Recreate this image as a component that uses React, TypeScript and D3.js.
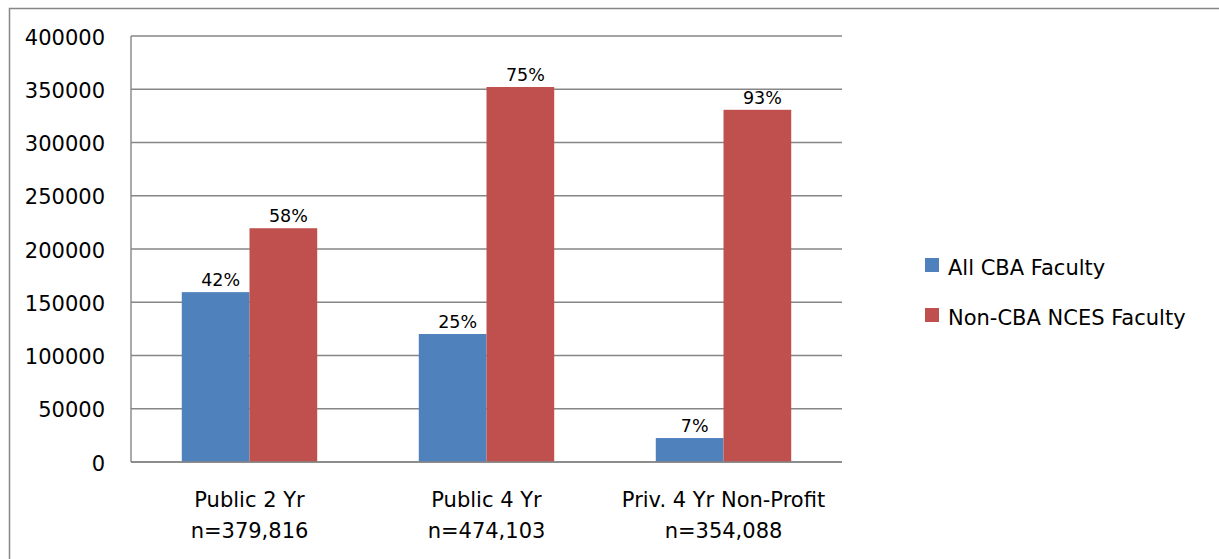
import React from "react";
import * as d3 from "d3";

const categories = ["Public 2 Yr", "Public 4 Yr", "Priv. 4 Yr Non-Profit"];
const categorySub = ["n=379,816", "n=474,103", "n=354,088"];
const seriesNames = ["All CBA Faculty", "Non-CBA NCES Faculty"];
const seriesColors = ["#4F81BD", "#C0504D"];
const cbaValues = [159500, 120200, 22500];
const nonCbaValues = [219500, 352100, 330700];
const cbaLabels = ["42%", "25%", "7%"];
const nonCbaLabels = ["58%", "75%", "93%"];
const yTicks = [0, 50000, 100000, 150000, 200000, 250000, 300000, 350000, 400000];

const W = 1219;
const H = 559;
const FONT = "'DejaVu Sans', sans-serif";
const GRID = "#868686";

export default function App() {
  const left = 131;
  const right = 842;
  const top = 36;
  const bottom = 462;

  const x = d3.scaleBand<string>().domain(categories).range([left, right]).paddingInner(0).paddingOuter(0);
  const inner = d3
    .scaleBand<string>()
    .domain(seriesNames)
    .range([0, x.bandwidth()])
    .paddingInner(0)
    .paddingOuter(0.75);
  const y = d3.scaleLinear().domain([0, 400000]).range([bottom, top]);

  const seriesData = [
    { name: seriesNames[0], values: cbaValues, labels: cbaLabels, color: seriesColors[0] },
    { name: seriesNames[1], values: nonCbaValues, labels: nonCbaLabels, color: seriesColors[1] },
  ];

  return (
    <svg
      width={W}
      height={H}
      style={{ position: "absolute", left: 0, top: 0, display: "block", background: "#fff" }}
      fontFamily={FONT}
    >
      <rect x={9.5} y={8.5} width={W} height={H} fill="#fff" stroke={GRID} strokeWidth={1.5} />

      {/* gridlines */}
      {yTicks.map((t) => (
        <line key={"g" + t} x1={left} x2={right} y1={y(t)} y2={y(t)} stroke={GRID} strokeWidth={1.4} />
      ))}
      {/* y axis line */}
      <line x1={left} x2={left} y1={top} y2={bottom} stroke={GRID} strokeWidth={1.4} />

      {/* tick labels */}
      {yTicks.map((t) => (
        <text key={"t" + t} x={105} y={y(t) + 8.5} textAnchor="end" fontSize={21} fill="#000">
          {String(t)}
        </text>
      ))}

      {/* bars */}
      {seriesData.map((s) =>
        categories.map((c, i) => {
          const bx = (x(c) as number) + (inner(s.name) as number);
          const by = y(s.values[i]);
          return (
            <g key={s.name + c}>
              <rect x={bx} y={by} width={inner.bandwidth()} height={bottom - by} fill={s.color} />
              <text
                x={bx + inner.bandwidth() / 2 + 5}
                y={by - 6}
                textAnchor="middle"
                fontSize={17.5}
                fill="#000"
              >
                {s.labels[i]}
              </text>
            </g>
          );
        })
      )}

      {/* x axis line */}
      <line x1={left} x2={right} y1={bottom} y2={bottom} stroke={GRID} strokeWidth={1.6} />

      {/* category labels */}
      {categories.map((c, i) => (
        <text key={"c" + c} x={(x(c) as number) + x.bandwidth() / 2} textAnchor="middle" fontSize={21} fill="#000">
          <tspan x={(x(c) as number) + x.bandwidth() / 2} y={507}>
            {c}
          </tspan>
          <tspan x={(x(c) as number) + x.bandwidth() / 2} y={538}>
            {categorySub[i]}
          </tspan>
        </text>
      ))}

      {/* legend */}
      {seriesNames.map((n, i) => (
        <g key={"l" + n} transform={`translate(925, ${258 + i * 50})`}>
          <rect x={0} y={0} width={14} height={14} fill={seriesColors[i]} />
          <text x={23} y={17} fontSize={21} fill="#000">
            {n}
          </text>
        </g>
      ))}
    </svg>
  );
}
